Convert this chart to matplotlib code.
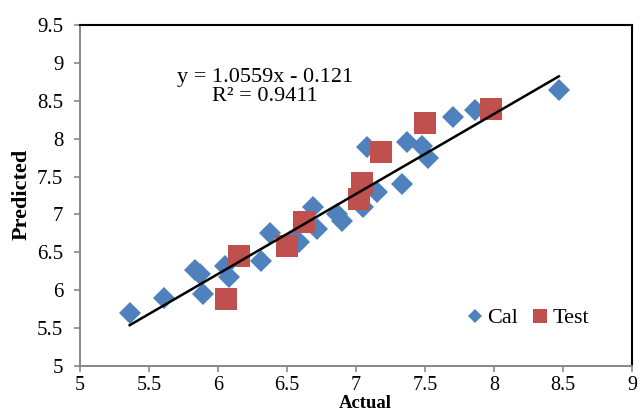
import matplotlib
matplotlib.use("Agg")
import matplotlib.pyplot as plt
import numpy as np

plt.rcParams['font.family'] = ['Liberation Serif', 'DejaVu Serif']

cal_x = [5.36, 5.61, 5.83, 5.87, 5.89, 6.05, 6.08, 6.31, 6.38, 6.55, 6.59, 6.69, 6.72,
         6.86, 6.90, 7.05, 7.08, 7.15, 7.33, 7.37, 7.48, 7.52, 7.70, 7.86, 8.47]
cal_y = [5.70, 5.90, 6.27, 6.22, 5.95, 6.32, 6.17, 6.39, 6.76, 6.68, 6.64, 7.10, 6.81,
         7.00, 6.92, 7.10, 7.89, 7.30, 7.40, 7.96, 7.90, 7.74, 8.29, 8.38, 8.64]
test_x = [6.06, 6.15, 6.50, 6.62, 7.02, 7.04, 7.18, 7.50, 7.98]
test_y = [5.89, 6.45, 6.58, 6.90, 7.20, 7.42, 7.82, 8.21, 8.39]
slope, intercept = 1.0559, -0.121
r2 = 0.9411
x_ticks = [5, 5.5, 6, 6.5, 7, 7.5, 8, 8.5, 9]
x_labels = ['5', '5.5', '6', '6.5', '7', '7.5', '8', '8.5', '9']
y_ticks = [5, 5.5, 6, 6.5, 7, 7.5, 8, 8.5, 9, 9.5]
y_labels = ['5', '5.5', '6', '6.5', '7', '7.5', '8', '8.5', '9', '9.5']

W, H = 642, 413
fig = plt.figure(figsize=(W / 100, H / 100), dpi=100)
ax = fig.add_axes([80 / W, 1 - 366 / H, 552 / W, 341 / H])

blue = '#4F81BD'
red = '#C0504D'
ax.plot(cal_x, cal_y, linestyle='none', marker='D', markersize=11.2, color=blue,
        markeredgewidth=0, label='Cal', zorder=3)
ax.plot(test_x, test_y, linestyle='none', marker='s', markersize=16, color=red,
        markeredgewidth=0, label='Test', zorder=4)
lx = np.array([min(cal_x), max(cal_x)])
ax.plot(lx, slope * lx + intercept, color='black', linewidth=1.8, zorder=5)

ax.set_xlim(5, 9)
ax.set_ylim(5, 9.5)
ax.set_xticks(x_ticks)
ax.set_xticklabels(x_labels)
ax.set_yticks(y_ticks)
ax.set_yticklabels(y_labels)
ax.tick_params(direction='out', length=4, color='#888888', labelsize=15, width=1.2)
ax.tick_params(axis='x', pad=3, labelsize=14.5)
ax.tick_params(axis='y', pad=8)
for s in ['left', 'bottom']:
    ax.spines[s].set_color('#888888')
    ax.spines[s].set_linewidth(1.4)
for s in ['top', 'right']:
    ax.spines[s].set_color('black')
    ax.spines[s].set_linewidth(1.5)

fig.text(365 / W, 1.5 / H, 'Actual', fontsize=13.5, fontweight='bold',
         ha='center', va='bottom')
fig.text(22 / W, 1 - 194 / H, 'Predicted', fontsize=16, fontweight='bold',
         ha='center', va='center', rotation=90)

ax.text((265 - 80) / 552, (366 - 87) / 341,
        f'y = {slope}x - {abs(intercept)}\nR² = {r2}', transform=ax.transAxes,
        ha='center', va='center', fontsize=16, linespacing=0.95)

leg = fig.legend(loc='center left', frameon=False, fontsize=16, ncol=2,
                 handlelength=0.8, handletextpad=0.15, columnspacing=0.6,
                 borderpad=0, borderaxespad=0,
                 bbox_to_anchor=(466 / W, 1 - 318 / H))
hs = leg.legend_handles
hs[0].set_markersize(7.6)
hs[1].set_markersize(9.6)

fig.savefig('out.png', dpi=100)
